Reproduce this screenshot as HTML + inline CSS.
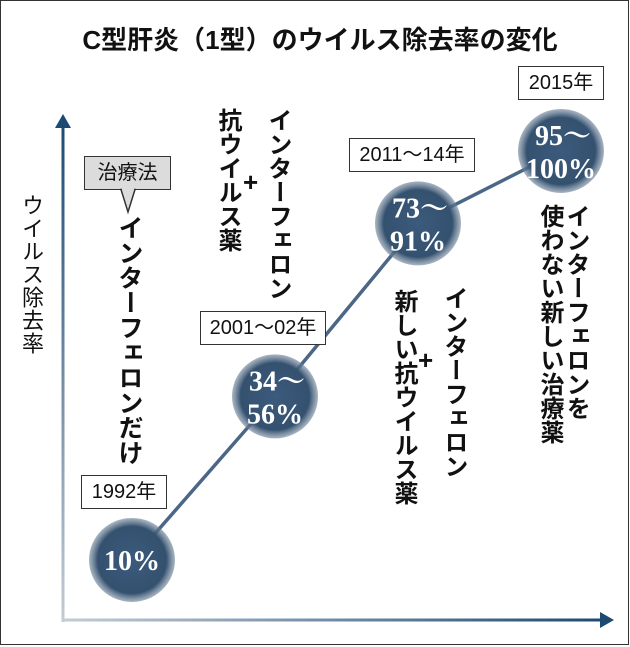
<!DOCTYPE html>
<html><head><meta charset="utf-8">
<style>
html,body{margin:0;padding:0;background:#fff}
#wrap{position:relative;width:630px;height:647px;overflow:hidden;background:#fff;font-family:"Liberation Sans","Noto Sans CJK JP",sans-serif;color:#111}
#frame{position:absolute;left:0;top:0;width:627px;height:643px;border:1.5px solid #333}
.title{position:absolute;left:0;top:20px;width:640px;text-align:center;font-size:26px;font-weight:bold;letter-spacing:0px}
.vt{position:absolute;writing-mode:vertical-rl;font-size:24px;font-weight:bold;line-height:24px;letter-spacing:0px;white-space:nowrap}
.plus{position:absolute;font-size:26px;font-weight:bold;line-height:26px}
.ybox{position:absolute;border:1.5px solid #333;background:#fff;font-size:20px;text-align:center;line-height:32px;height:32px;box-sizing:content-box}
svg{position:absolute;left:0;top:0}
</style></head>
<body>
<div id="wrap">
<div id="frame"></div>
<div class="title">C型肝炎（1型）のウイルス除去率の変化</div>
<svg id="chart" width="630" height="647">
<defs>
<linearGradient id="gy" x1="0" y1="1" x2="0" y2="0"><stop offset="0" stop-color="#c3ccd6"/><stop offset="1" stop-color="#1d4a72"/></linearGradient>
<linearGradient id="gx" x1="0" y1="0" x2="1" y2="0"><stop offset="0" stop-color="#c3ccd6"/><stop offset="1" stop-color="#1d4a72"/></linearGradient>
<radialGradient id="gc"><stop offset="0" stop-color="#3c5a7c"/><stop offset="0.8" stop-color="#34516f"/><stop offset="1" stop-color="#6f849a" stop-opacity="0.6"/></radialGradient>
</defs>
<rect x="61.5" y="125" width="3" height="497" fill="url(#gy)"/>
<polygon points="63,114 55,128 71,128" fill="#1d4a72"/>
<rect x="62" y="618.5" width="540" height="3" fill="url(#gx)"/>
<polygon points="614,620 600,612 600,628" fill="#1d4a72"/>
<g id="marks"></g>
</svg>

<div class="vt" style="left:20px;top:194px;font-size:22px;font-weight:normal;line-height:22px;letter-spacing:1px">ウイルス除去率</div>

<div style="position:absolute;left:84px;top:156px;width:85px;height:32px;border:1.5px solid #333;background:#dcdcdc;font-size:20px;line-height:32px;text-align:center">治療法</div>
<svg width="630" height="647" style="pointer-events:none"><polygon points="121,189.5 135,189.5 128,212" fill="#dcdcdc" stroke="#333" stroke-width="1.5"/><line x1="122" y1="189.5" x2="134" y2="189.5" stroke="#dcdcdc" stroke-width="2"/></svg>

<div class="vt" style="left:116px;top:215px;font-size:25px;line-height:25px">インターフェロンだけ</div>

<div class="vt" style="left:265px;top:108px">インターフェロン</div>
<div class="plus" style="left:243px;top:169px">+</div>
<div class="vt" style="left:215px;top:108px">抗ウイルス薬</div>

<div class="vt" style="left:441px;top:286px">インターフェロン</div>
<div class="plus" style="left:418px;top:347px">+</div>
<div class="vt" style="left:391px;top:289px">新しい抗ウイルス薬</div>

<div class="vt" style="left:563px;top:204px">インターフェロンを</div>
<div class="vt" style="left:537px;top:204px">使わない新しい治療薬</div>

<div id="boxes"></div>
</div>
<script>
const years = ["1992年","2001〜02年","2011〜14年","2015年"];
const lowVals = [10,34,73,95];
const highVals = [10,56,91,100];
const labelsTop = ["10%","34〜","73〜","95〜"];
const labelsBottom = ["","56%","91%","100%"];

const xScale = i => 132 + i*143;
const yScale = v => 606.7 - 4.674*v;
const R = 43;
const NS = "http://www.w3.org/2000/svg";
const g = document.getElementById("marks");
const boxes = document.getElementById("boxes");
const pts = lowVals.map((lo,i)=>[xScale(i), yScale((lo+highVals[i])/2)]);

const line = document.createElementNS(NS,"polyline");


line.setAttribute("points", pts.map(p=>p.join(",")).join(" "));
line.setAttribute("fill","none");
line.setAttribute("stroke","#4b6686");
line.setAttribute("stroke-width","3.5");
g.appendChild(line);

pts.forEach((p,i)=>{
  const c = document.createElementNS(NS,"ellipse");
  
  
  c.setAttribute("cx",p[0]); c.setAttribute("cy",p[1]);
  c.setAttribute("rx",R); c.setAttribute("ry",R-1);
  c.setAttribute("fill","url(#gc)");
  g.appendChild(c);
  const single = labelsBottom[i]==="";
  const lines = single ? [labelsTop[i]] : [labelsTop[i], labelsBottom[i]];
  lines.forEach((s,k)=>{
    const t = document.createElementNS(NS,"text");
    
    
    t.setAttribute("x", p[0]+ (k===0 && !single ? 2 : 0));
    t.setAttribute("y", single ? p[1]+10 : p[1] - 6 + k*33);
    t.setAttribute("text-anchor","middle");
    t.setAttribute("fill","#fff");
    t.setAttribute("font-family",'"Liberation Serif","Noto Serif CJK SC",serif');
    t.setAttribute("font-weight","bold");
    t.setAttribute("font-size", "28");
    t.textContent = s;
    g.appendChild(t);
  });
  const b = document.createElement("div");
  
  
  b.className = "ybox";
  const w = years[i].length > 5 ? 124 : 84;
  b.style.width = w + "px";
  const offs = [-8,-12,-6,0];
  b.style.left = (p[0] + offs[i] - w/2 - 1) + "px";
  b.style.top = (p[1] - R - 42) + "px";
  b.textContent = years[i];
  boxes.appendChild(b);
});
</script>
</body></html>
